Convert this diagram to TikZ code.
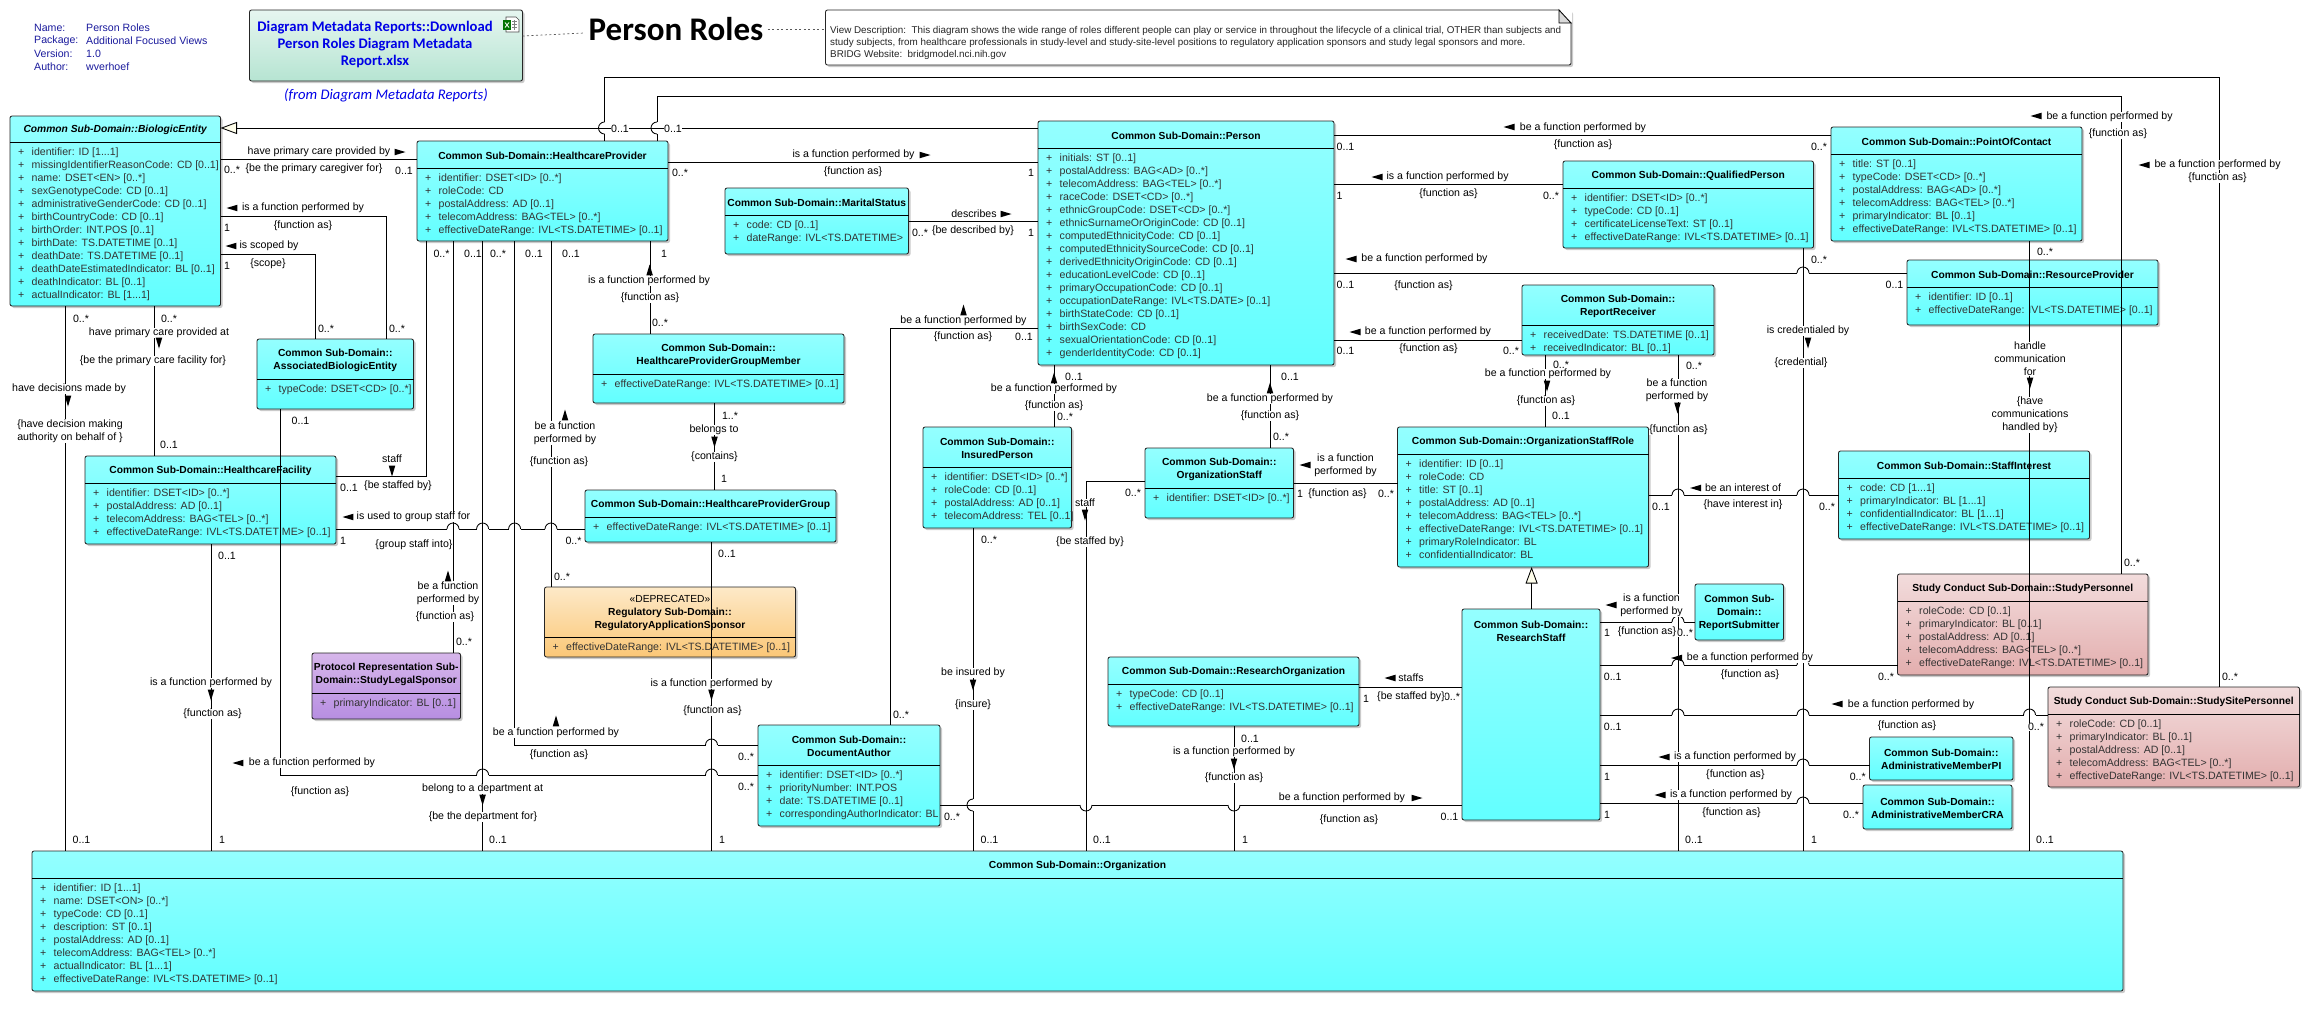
\documentclass[tikz,border=0pt]{standalone}
\usepackage{fontspec}
\setmainfont{Liberation Sans}
\newfontfamily\calib{Carlito}
\usetikzlibrary{arrows.meta,shadows}

\definecolor{cyantop}{HTML}{94FFFF}
\definecolor{cyanbot}{HTML}{62FFFF}
\definecolor{pinktop}{HTML}{F2DCDC}
\definecolor{pinkbot}{HTML}{E3AEAE}
\definecolor{orangetop}{HTML}{FDE9C8}
\definecolor{orangebot}{HTML}{FBC776}
\definecolor{purpletop}{HTML}{D6B6EA}
\definecolor{purplebot}{HTML}{B78EE2}
\definecolor{minttop}{HTML}{E6F6F0}
\definecolor{mintbot}{HTML}{B6E4D2}
\definecolor{linkblue}{HTML}{0000E6}
\definecolor{navyblue}{HTML}{1A1A9C}

\newcommand{\fsize}{\fontsize{10.6}{13}\selectfont}
\newcommand{\tsize}{\fontsize{10.25}{13}\selectfont}
\newcommand{\nsize}{\fontsize{9.85}{12}\selectfont}
\newcommand{\rsize}{\calib\fontsize{14.67}{17}\selectfont}
\newcommand{\ddd}{...}
\newcommand{\fa}{\{function as\}}
\newcommand{\tfp}{is a function performed by}
\newcommand{\bfp}{be a function performed by}

% box with title, header line and one row per attribute
\newcommand{\classbox}[9]{
	\node[classnode, #7, minimum width={(#4-#2)*1pt}, minimum height={(#5-#3)*1pt}] (#1) at (#2,#3) {};
	\node[titlek] (#1-t) at ({(#2+#4)/2},{(#3+#6)/2+1}) {#8};
	\if\relax\detokenize{#9}\relax\else
		\draw[conn] (#1.west |- 0,#6) -- (#1.east |- 0,#6);
		\foreach \attr [count=\ai] in {#9} {
			\node[attrk] (#1-p\ai) at (#2+8,#6+13*\ai-2) {+};
			\node[attrk] (#1-a\ai) at (#2+21.5,#6+13*\ai-2) {\attr};
		}
	\fi
}
\newcommand{\hopup}[2]{
	\draw[white, line width=1.6pt] (#1-6,#2) -- (#1+6,#2);
	\draw[conn] (#1-6,#2) arc[start angle=180, end angle=0, radius=6pt];
	\draw[conn] (#1,#2-7) -- (#1,#2+2);
}
\newcommand{\hopdown}[2]{
	\draw[white, line width=1.6pt] (#1-6,#2) -- (#1+6,#2);
	\draw[conn] (#1-6,#2) arc[start angle=180, end angle=360, radius=6pt];
	\draw[conn] (#1,#2-2) -- (#1,#2+7);
}
\newcommand{\hopleft}[2]{
	\draw[white, line width=1.6pt] (#1,#2-6) -- (#1,#2+6);
	\draw[conn] (#1,#2-6) arc[start angle=90, end angle=270, radius=6pt];
	\draw[conn] (#1-7,#2) -- (#1+2,#2);
}

\begin{document}
\begin{tikzpicture}[x=1pt, y=-1pt, font=\fsize,
		conn/.style={line width=0.85pt, black},
		gener/.style={conn, -{Triangle[open, length=16.5pt, width=12pt, fill=yellow!8!white]}},
		classnode/.style={draw=black!85, line width=0.85pt, rounded corners=2pt, inner sep=0pt, outer sep=0pt, anchor=north west,
			drop shadow={shadow xshift=2pt, shadow yshift=-2pt, opacity=.35, fill=black!60}},
		cyanbox/.style={top color=cyantop, bottom color=cyanbot},
		pinkbox/.style={top color=pinktop, bottom color=pinkbot},
		orangebox/.style={top color=orangetop, bottom color=orangebot},
		purplebox/.style={top color=purpletop, bottom color=purplebot},
		titlek/.style={font=\tsize\bfseries, align=center, inner sep=0pt},
		attrk/.style={anchor=west, inner sep=0pt, text=black!80, text height=8pt, text depth=2.5pt},
		lbl/.style={fill=white, inner sep=0.5pt, align=center},
		metak/.style={anchor=west, inner sep=0pt, text=navyblue},
		dots/.style={line width=0.7pt, black!65, dash pattern=on 2pt off 2.5pt}]
	\useasboundingbox (0,0) rectangle (2310,1021);

	% 1. header: metadata, title, note
	\foreach \mx/\my/\mt [count=\mi] in {34/28/Name:, 86/28/Person Roles, 34/41/Package:, 86/41/Additional Focused Views, 34/54/Version:, 86/54/1.0, 34/67/Author:, 86/67/wverhoef}
		\node[metak] (meta\mi) at (\mx,\my) {\mt};
	\node[classnode, top color=minttop, bottom color=mintbot, minimum width=273pt, minimum height=71pt] (report) at (249.5,10) {};
	\node[font=\rsize\bfseries, text=linkblue, align=center, inner sep=0pt] (report-t) at (375,45)
		{Diagram Metadata Reports::Download\\Person Roles Diagram Metadata\\Report.xlsx};
	\node[font=\rsize\itshape, text=linkblue, inner sep=0pt] (report-f) at (386,95) {(from Diagram Metadata Reports)};
	% little spreadsheet icon
	\draw[black!70, fill=white, line width=0.6pt] (506,17) -- (516,17) -- (519,20) -- (519,32) -- (506,32) -- cycle;
	\draw[black!50, line width=0.4pt] (512,21) -- (517,21) (512,24) -- (517,24) (512,27) -- (517,27) (514.5,20) -- (514.5,30);
	\fill[green!45!black] (503,20) rectangle (511,30);
	\draw[white, line width=0.8pt] (505,22.5) -- (509,27.5) (509,22.5) -- (505,27.5);
	\node[font=\calib\fontsize{33}{36}\selectfont\bfseries, inner sep=4pt] (title) at (676,29) {Person Roles};
	\node[classnode, fill=white, minimum width=745.5pt, minimum height=55pt] (note) at (825.5,10) {};
	\fill[white] (1559,9) -- (1572,9) -- (1572,23) -- cycle;
	\draw[conn, fill=black!15] (1559,10) -- (1571,23) -- (1559,23) -- cycle;
	\foreach \ny/\nt [count=\mi] in {31/View Description:\ \ This diagram shows the wide range of roles different people can play or service in throughout the lifecycle of a clinical trial\char44{} OTHER than subjects and,
			43/study subjects\char44{} from healthcare professionals in study-level and study-site-level positions to regulatory application sponsors and study legal sponsors and more.,
			55/BRIDG Website:\ \ bridgmodel.nci.nih.gov}
		\node[anchor=west, inner sep=0pt, text=black!85, font=\nsize] (note\mi) at (830,\ny) {\nt};
	\draw[dots] (report.east |- 0,36) -- (title.west |- 0,33);
	\draw[dots] (title.east) -- (note.west |- title.east);

	% 2. classes
	\classbox{be}{10}{116}{220.5}{306}{142}{cyanbox}{\itshape Common Sub-Domain::BiologicEntity}{identifier: ID [1\ddd1], missingIdentifierReasonCode: CD [0..1], name: DSET<EN> [0..*], sexGenotypeCode: CD [0..1], administrativeGenderCode: CD [0..1], birthCountryCode: CD [0..1], birthOrder: INT.POS [0..1], birthDate: TS.DATETIME [0..1], deathDate: TS.DATETIME [0..1], deathDateEstimatedIndicator: BL [0..1], deathIndicator: BL [0..1], actualIndicator: BL [1\ddd1]}
	\classbox{hp}{417}{141}{668}{241}{168}{cyanbox}{Common Sub-Domain::HealthcareProvider}{identifier: DSET<ID> [0..*], roleCode: CD, postalAddress: AD [0..1], telecomAddress: BAG<TEL> [0..*], effectiveDateRange: IVL<TS.DATETIME> [0..1]}
	\classbox{ms}{725}{188}{908.5}{254}{215}{cyanbox}{Common Sub-Domain::MaritalStatus}{code: CD [0..1], dateRange: IVL<TS.DATETIME>}
	\classbox{person}{1038}{121}{1334}{365}{148}{cyanbox}{Common Sub-Domain::Person}{initials: ST [0..1], postalAddress: BAG<AD> [0..*], telecomAddress: BAG<TEL> [0..*], raceCode: DSET<CD> [0..*], ethnicGroupCode: DSET<CD> [0..*], ethnicSurnameOrOriginCode: CD [0..1], computedEthnicityCode: CD [0..1], computedEthnicitySourceCode: CD [0..1], derivedEthnicityOriginCode: CD [0..1], educationLevelCode: CD [0..1], primaryOccupationCode: CD [0..1], occupationDateRange: IVL<TS.DATE> [0..1], birthStateCode: CD [0..1], birthSexCode: CD, sexualOrientationCode: CD [0..1], genderIdentityCode: CD [0..1]}
	\classbox{qp}{1563}{161}{1813.5}{248}{188}{cyanbox}{Common Sub-Domain::QualifiedPerson}{identifier: DSET<ID> [0..*], typeCode: CD [0..1], certificateLicenseText: ST [0..1], effectiveDateRange: IVL<TS.DATETIME> [0..1]}
	\classbox{poc}{1831}{127}{2082}{241}{154}{cyanbox}{Common Sub-Domain::PointOfContact}{title: ST [0..1], typeCode: DSET<CD> [0..*], postalAddress: BAG<AD> [0..*], telecomAddress: BAG<TEL> [0..*], primaryIndicator: BL [0..1], effectiveDateRange: IVL<TS.DATETIME> [0..1]}
	\classbox{rprov}{1907}{260}{2158}{325}{287}{cyanbox}{Common Sub-Domain::ResourceProvider}{identifier: ID [0..1], effectiveDateRange: IVL<TS.DATETIME> [0..1]}
	\classbox{rr}{1522}{285}{1714}{355}{325}{cyanbox}{Common Sub-Domain::\\ReportReceiver}{receivedDate: TS.DATETIME [0..1], receivedIndicator: BL [0..1]}
	\classbox{abe}{257}{339}{413.5}{409}{379}{cyanbox}{Common Sub-Domain::\\AssociatedBiologicEntity}{typeCode: DSET<CD> [0..*]}
	\classbox{hf}{85}{456}{336}{544}{483}{cyanbox}{Common Sub-Domain::HealthcareFacility}{identifier: DSET<ID> [0..*], postalAddress: AD [0..1], telecomAddress: BAG<TEL> [0..*], effectiveDateRange: IVL<TS.DATETIME> [0..1]}
	\classbox{hpgm}{593}{334}{844}{403}{374}{cyanbox}{Common Sub-Domain::\\HealthcareProviderGroupMember}{effectiveDateRange: IVL<TS.DATETIME> [0..1]}
	\classbox{hpg}{585}{490}{836}{542}{517}{cyanbox}{Common Sub-Domain::HealthcareProviderGroup}{effectiveDateRange: IVL<TS.DATETIME> [0..1]}
	\classbox{rap}{544.5}{587}{795.5}{657}{637}{orangebox}{\mdseries «DEPRECATED»\\Regulatory Sub-Domain::\\RegulatoryApplicationSponsor}{effectiveDateRange: IVL<TS.DATETIME> [0..1]}
	\classbox{sls}{312}{653}{460.5}{719}{693}{purplebox}{Protocol Representation Sub-\\Domain::StudyLegalSponsor}{primaryIndicator: BL [0..1]}
	\classbox{ip}{923}{427}{1071.5}{528}{467}{cyanbox}{Common Sub-Domain::\\InsuredPerson}{identifier: DSET<ID> [0..*], roleCode: CD [0..1], postalAddress: AD [0..1], telecomAddress: TEL [0..1]}
	\classbox{osf}{1145}{448}{1293.5}{518}{488}{cyanbox}{Common Sub-Domain::\\OrganizationStaff}{identifier: DSET<ID> [0..*]}
	\classbox{osr}{1397.5}{427}{1648.5}{567}{454}{cyanbox}{Common Sub-Domain::OrganizationStaffRole}{identifier: ID [0..1], roleCode: CD, title: ST [0..1], postalAddress: AD [0..1], telecomAddress: BAG<TEL> [0..*], effectiveDateRange: IVL<TS.DATETIME> [0..1], primaryRoleIndicator: BL, confidentialIndicator: BL}
	\classbox{rs}{1462}{609}{1600}{820}{652}{cyanbox}{Common Sub-Domain::\\ResearchStaff}{}
	\classbox{rsub}{1695}{584}{1783.5}{640}{640}{cyanbox}{Common Sub-\\Domain::\\ReportSubmitter}{}
	\classbox{si}{1838.5}{451}{2089.5}{539}{478}{cyanbox}{Common Sub-Domain::StaffInterest}{code: CD [1\ddd1], primaryIndicator: BL [1\ddd1], confidentialIndicator: BL [1\ddd1], effectiveDateRange: IVL<TS.DATETIME> [0..1]}
	\classbox{sp}{1897.5}{574}{2148}{675}{601}{pinkbox}{Study Conduct Sub-Domain::StudyPersonnel}{roleCode: CD [0..1], primaryIndicator: BL [0..1], postalAddress: AD [0..1], telecomAddress: BAG<TEL> [0..*], effectiveDateRange: IVL<TS.DATETIME> [0..1]}
	\classbox{ssp}{2048}{687}{2299.5}{787}{714}{pinkbox}{Study Conduct Sub-Domain::StudySitePersonnel}{roleCode: CD [0..1], primaryIndicator: BL [0..1], postalAddress: AD [0..1], telecomAddress: BAG<TEL> [0..*], effectiveDateRange: IVL<TS.DATETIME> [0..1]}
	\classbox{ro}{1108}{657}{1359}{726}{684}{cyanbox}{Common Sub-Domain::ResearchOrganization}{typeCode: CD [0..1], effectiveDateRange: IVL<TS.DATETIME> [0..1]}
	\classbox{da}{758}{725}{940}{826}{765}{cyanbox}{Common Sub-Domain::\\DocumentAuthor}{identifier: DSET<ID> [0..*], priorityNumber: INT.POS, date: TS.DATETIME [0..1], correspondingAuthorIndicator: BL}
	\classbox{pi}{1869.5}{737}{2013}{780}{780}{cyanbox}{Common Sub-Domain::\\AdministrativeMemberPI}{}
	\classbox{cra}{1863}{785}{2012}{829}{829}{cyanbox}{Common Sub-Domain::\\AdministrativeMemberCRA}{}
	\classbox{org}{32}{851}{2123}{991}{878}{cyanbox}{Common Sub-Domain::Organization}{identifier: ID [1\ddd1], name: DSET<ON> [0..*], typeCode: CD [0..1], description: ST [0..1], postalAddress: AD [0..1], telecomAddress: BAG<TEL> [0..*], actualIndicator: BL [1\ddd1], effectiveDateRange: IVL<TS.DATETIME> [0..1]}

	% 3. connectors
	\draw[gener] (person.west |- 0,128) -- (be.east |- 0,128);
	\draw[gener] (rs.north -| 1531.6,0) -- (osr.south -| 1531.6,0);
	\foreach \ca/\cb/\cy in {be/hp/159, hp/person/162, ms/person/221, osf/osr/483, hf/hpg/529, da/rs/805, ro/rs/687, person/poc/135, person/qp/184, person/rprov/273, person/rr/340, osr/si/495, rs/rsub/622, rs/sp/665, rs/ssp/715, rs/pi/765, rs/cra/803}
		\draw[conn] (\ca.east |- 0,\cy) -- (\cb.west |- 0,\cy);
	\foreach \ca/\cb/\cx in {be/org/65, be/hf/154, hf/org/211.6, hp/sls/453, hp/org/482.6, hp/rap/551, hp/hpgm/650, hpgm/hpg/714.5, hpg/org/711.5, person/ip/1054, person/osf/1270, ip/org/973, ro/org/1234, rr/osr/1545, rr/org/1678, qp/org/1803, poc/org/2029.5}
		\draw[conn] (\ca.south -| \cx,0) -- (\cb.north -| \cx,0);
	\draw[conn] (be.east |- 0,216) -| (abe.north -| 386.5,0);
	\draw[conn] (be.east |- 0,254) -| (abe.north -| 315,0);
	\draw[conn] (hf.east |- 0,476) -| (hp.south -| 426,0);
	\draw[conn] (abe.south -| 280,0) |- (da.west |- 0,775);
	\draw[conn] (hp.south -| 514.6,0) |- (da.west |- 0,745);
	\draw[conn] (person.west |- 0,328) -| (da.north -| 890,0);
	\draw[conn] (osf.west |- 0,481) -| (org.north -| 1086,0);
	\draw[conn] (hp.north -| 604.5,0) -- (604.5,77) -| (ssp.north -| 2219.6,0);
	\draw[conn] (hp.north -| 657,0) -- (657,96.5) -| (sp.north -| 2121,0);

	% 4. line jumps
	\foreach \hx/\hy in {453/529, 482.6/529, 514.6/529, 551/529, 482.6/775, 711.5/775, 711.5/745, 1803/273, 1678/495, 1803/495, 1678/622, 1678/665, 1803/665, 1678/715, 1803/715, 2029.5/715, 1803/765, 1803/803}
		{\hopup{\hx}{\hy}}
	\foreach \hx/\hy in {1086/805, 1234/805}
		{\hopdown{\hx}{\hy}}
	\foreach \hx/\hy in {604.5/128, 657/128, 973/805}
		{\hopleft{\hx}{\hy}}

	% 5. multiplicities
	\foreach \mx/\my/\mt [count=\mi] in {620/129/0..1, 673/129/0..1, 2230/677/0..*, 2132/563/0..*,
			232/170/0..*, 404/171/0..1, 227/228/1, 397/329/0..*, 227/266/1, 326/329/0..*,
			81/319/0..*, 81.5/840/0..1, 169/319/0..*, 169/445/0..1, 300.5/421/0..1, 746/787/0..*,
			349/488/0..1, 441.5/254/0..*, 227/556/0..1, 222/840/1, 343/541/1, 573.5/541/0..*,
			473/254/0..1, 498/254/0..*, 534/254/0..1, 571/254/0..1, 664/254/1, 464/642/0..*,
			498/840/0..1, 746/757/0..*, 562/577/0..*, 660/323/0..*, 730/416/1..*, 724/479/1,
			727/554/0..1, 722/840/1, 680/173/0..*, 1031/173/1, 920/233/0..*, 1031/233/1,
			1024/337/0..1, 901/715/0..*, 1074/377/0..1, 1065/417/0..*, 1290/377/0..1, 1281/437/0..*,
			1300/494/1, 1386/494/0..*, 1133/493/0..*, 1102/840/0..1, 989/540/0..*, 989.5/840/0..1,
			952/817/0..*, 1449.5/817/0..1, 1250/739/0..1, 1245/840/1, 1366/699/1, 1452/697/0..*,
			1561/365/0..*, 1561/416/0..1, 1345.5/147/0..1, 1819/147/0..*, 1339.6/196/1, 1551/196/0..*,
			1345.5/285/0..1, 1894.5/285/0..1, 1345.5/351/0..1, 1511/351/0..*, 1814/840/1, 1819/260/0..*,
			2045/840/0..1, 2045/252/0..*, 1694/366/0..*, 1694/840/0..1, 1661/507/0..1, 1827/507/0..*,
			1607/633/1, 1685/633/0..*, 1612.7/677/0..1, 1886/677/0..*, 1612.7/727/0..1, 2036/727/0..*,
			1607/777/1, 1857.7/777/0..*, 1607/815/1, 1851/815/0..*}
		\node[lbl] (m\mi) at (\mx,\my) {\mt};

	% 6. role names
	\foreach \mx/\my/\mt [count=\mi] in {2217.6/165/\bfp, 2217.6/178/\fa, 2109.6/117/\bfp, 2118/134/\fa,
			319/152/have primary care provided by, 314/169/\{be the primary caregiver for\}, 303/208/\tfp, 303/226/\fa, 269/246/is scoped by, 268/264/\{scope\},
			69/389/have decisions made by, 70/431/\{have decision making\\authority on behalf of \}, 159/333/have primary care provided at, 153/361/\{be the primary care facility for\},
			312/763/\bfp, 320/792/\fa, 392/459/staff, 398/486/\{be staffed by\}, 211/683/\tfp, 212.6/714/\fa,
			413.5/517/is used to group staff for, 414/545/\{group staff into\}, 448/593/be a function\\performed by, 445/617/\fa,
			482.6/789/belong to a department at, 483/817/\{be the department for\}, 556/733/\bfp, 559/755/\fa,
			565/433/be a function\\performed by, 559/462/\fa, 649/281/\tfp, 650/298/\fa,
			714/430/belongs to, 714.5/457/\{contains\}, 711.5/684/\tfp, 712.5/711/\fa,
			853.5/155/\tfp, 853/172/\fa, 974/214/describes, 973/231/\{be described by\},
			963.5/321/\bfp, 963/337/\fa, 1054/389/\bfp, 1054/406/\fa, 1270/399/\bfp, 1270/416/\fa,
			1345.5/465.5/is a function\\performed by, 1337.6/494/\fa, 1085/503/staff, 1090/542/\{be staffed by\},
			973/673/be insured by, 973/705/\{insure\}, 1342/798/\bfp, 1349/820/\fa, 1234/752/\tfp, 1234/778/\fa,
			1411/678/staffs, 1411/697/\{be staffed by\},
			1548/374/\bfp, 1546/401/\fa, 1583/128/\bfp, 1583/145/\fa, 1447.6/177/\tfp, 1448.6/194/\fa,
			1424.5/259/\bfp, 1423.5/286/\fa, 1428/332/\bfp, 1428.5/349/\fa,
			1808/331/is credentialed by, 1801/363/\{credential\}, 2030/359/handle\\communication\\for, 2030/415/\{have\\communications\\handled by\},
			1677/390.5/be a function\\performed by, 1678.5/430/\fa, 1743/488/be an interest of, 1743/505/\{have interest in\},
			1651.5/605.5/is a function\\performed by, 1647/632/\fa, 1750/658/\bfp, 1750/675/\fa,
			1911/705/\bfp, 1907/726/\fa, 1735/757/\tfp, 1735.4/775/\fa, 1731/795/\tfp, 1731.5/813/\fa}
		\node[lbl] (r\mi) at (\mx,\my) {\mt};

	% 7. reading direction marks
	\foreach \tx/\ty/\ta in {400/152/0, 232/208/180, 231/246/180, 68/401/-90, 159/343/-90, 238/763/180, 392/471/-90, 211/695/-90,
			348/517/180, 448/576/90, 482.6/800/-90, 556/721/90, 565/415/90, 649.6/270/90, 714.5/442/-90, 711.5/695/-90,
			925/155/0, 1006/214/0, 963.5/310/90, 1054/378/90, 1270/388/90, 1305/465/180, 1085/515/-90, 973/685/-90,
			1417/798/0, 1234/764/-90, 1390/678/180, 1547/386/-90, 1509/127/180, 1377/177/180, 1351/259/180, 1355/332/180,
			1808/343/-90, 2030/383/-90, 1677.5/408/-90, 1695.6/488/180, 1611/605/180, 1676.5/658/180, 1837/704/180, 1664/757/180, 1660/795/180,
			2036/116/180, 2144/165/180}
		\fill (\tx,\ty) +(\ta:5.5pt) -- +(\ta+149:6.4pt) -- +(\ta-149:6.4pt) -- cycle;
\end{tikzpicture}
\end{document}
